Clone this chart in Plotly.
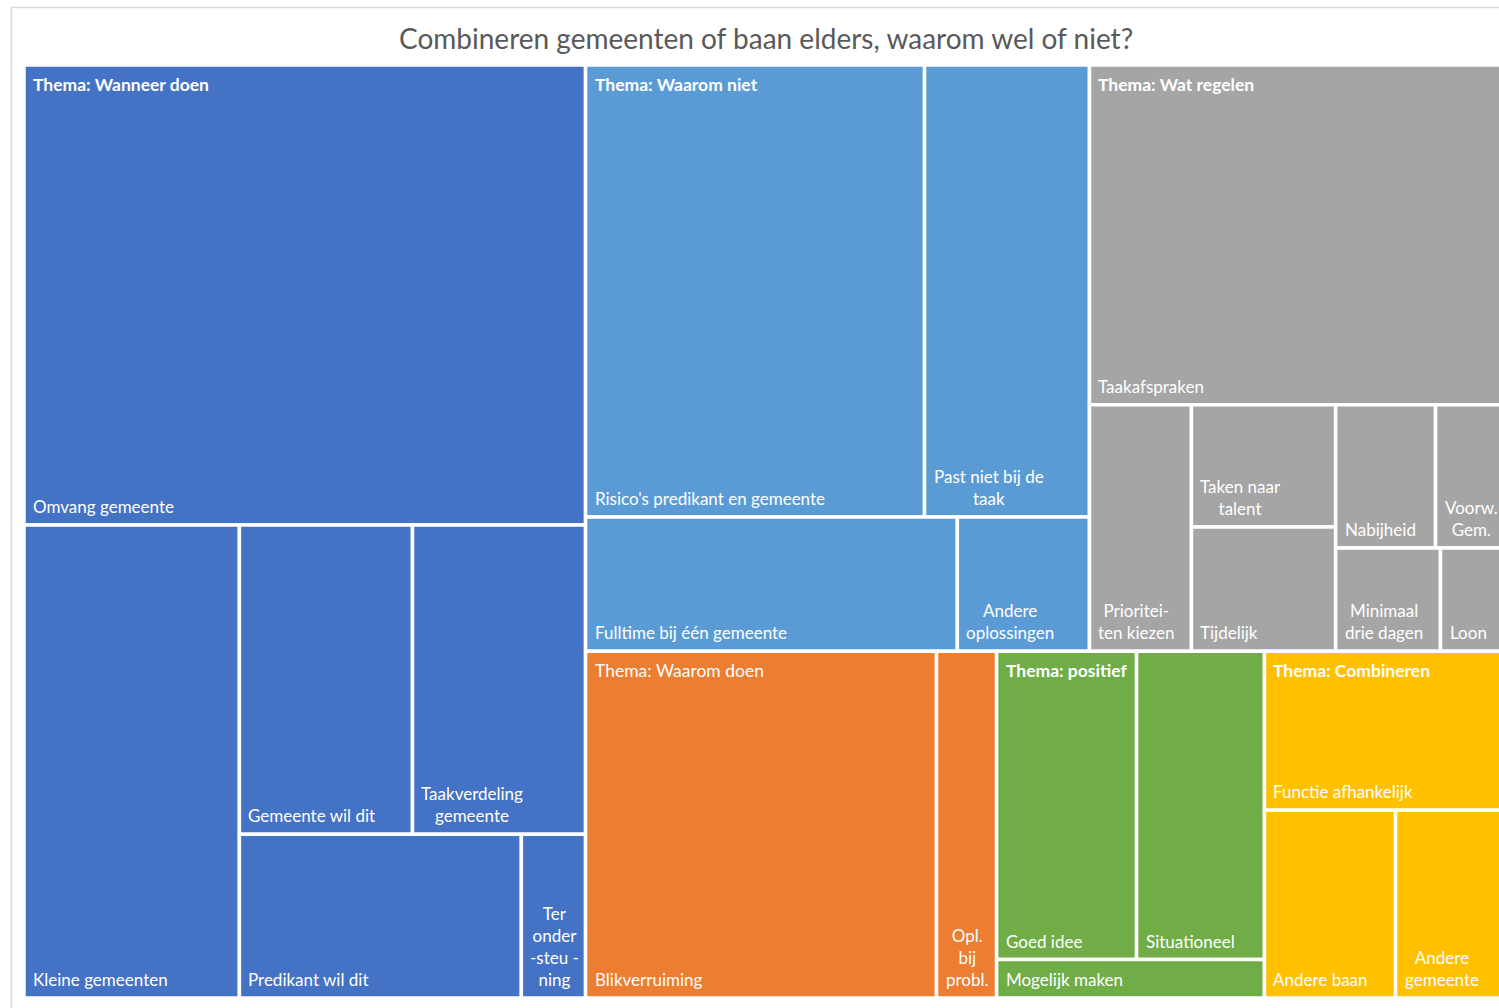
import plotly.graph_objects as go

# ---------------------------------------------------------------- data
themes = [
    "Thema: Wanneer doen",
    "Thema: Waarom niet",
    "Thema: Wat regelen",
    "Thema: Waarom doen",
    "Thema: positief",
    "Thema: Combineren",
]

wanneer_labels = ["Omvang gemeente", "Kleine gemeenten", "Gemeente wil dit",
                  "Taakverdeling<br>gemeente", "Predikant wil dit",
                  "Ter<br>onder<br>-steu -<br>ning"]
wanneer_values = [258.0, 101.8, 53.5, 53.5, 46.1, 10.5]

waarom_niet_labels = ["Risico's predikant en gemeente", "Past niet bij de<br>taak",
                      "Fulltime bij één gemeente", "Andere<br>oplossingen"]
waarom_niet_values = [153.1, 74.5, 49.8, 17.7]

wat_regelen_labels = ["Taakafspraken", "Prioritei-<br>ten kiezen", "Taken naar<br>talent",
                      "Tijdelijk", "Nabijheid", "Voorw.<br>Gem.",
                      "Minimaal<br>drie dagen", "Loon"]
wat_regelen_values = [141.9, 25.1, 17.6, 17.9, 14.3, 10.3, 10.8, 6.9]

waarom_doen_labels = ["Blikverruiming", "Opl.<br>bij<br>probl."]
waarom_doen_values = [121.6, 20.8]

positief_labels = ["Goed idee", "Situationeel", "Mogelijk maken"]
positief_values = [43.1, 39.4, 10.3]

combineren_labels = ["Functie afhankelijk", "Andere baan", "Andere<br>gemeente"]
combineren_values = [38.6, 24.6, 21.0]

children_labels = [wanneer_labels, waarom_niet_labels, wat_regelen_labels,
                   waarom_doen_labels, positief_labels, combineren_labels]
children_values = [wanneer_values, waarom_niet_values, wat_regelen_values,
                   waarom_doen_values, positief_values, combineren_values]

# ---------------------------------------------------------------- style
theme_colors = ["#4472C4", "#5B9BD5", "#A5A5A5", "#ED7D31", "#70AD47", "#FFC000"]
theme_bold = [True, True, True, False, True, True]
FONT = "Lato, Carlito, Calibri, 'Open Sans', sans-serif"

# number of consecutive items that share one strip, per level
top_strips = [1, 2, 1, 1, 1]
child_strips = [
    [1, 1, 2, 1, 1],
    [2, 1, 1],
    [1, 1, 2, 2, 1, 1],
    [1, 1],
    [2, 1],
    [1, 1, 1],
]

FIG_W, FIG_H = 1499, 1008
M_L, M_T, M_B = 24, 65, 10
PLOT_W = FIG_W - M_L
PLOT_H = FIG_H - M_T - M_B
TREE_W, TREE_H = 1483.5, PLOT_H   # treemap runs slightly past the right edge


def strip_layout(values, rect, strips):
    """Lay values out in strips, each strip along the shorter side of the
    remaining rectangle; returns one rectangle per value."""
    x0, y0, x1, y1 = rect
    scale = (x1 - x0) * (y1 - y0) / sum(values)
    rects = []
    i = 0
    for n in strips:
        vals = values[i:i + n]
        area = sum(vals) * scale
        w, h = x1 - x0, y1 - y0
        if w >= h:
            cw = area / h
            yy = y0
            for v in vals:
                hh = v * scale / cw
                rects.append((x0, yy, x0 + cw, yy + hh))
                yy += hh
            x0 += cw
        else:
            rh = area / w
            xx = x0
            for v in vals:
                ww = v * scale / rh
                rects.append((xx, y0, xx + ww, y0 + rh))
                xx += ww
            y0 += rh
        i += n
    return rects


theme_totals = [sum(v) for v in children_values]
theme_rects = strip_layout(theme_totals, (0, 0, TREE_W, TREE_H), top_strips)

fig = go.Figure()
annotations = []

for t, (theme, trect) in enumerate(zip(themes, theme_rects)):
    rects = strip_layout(children_values[t], trect, child_strips[t])
    for label, val, (x0, y0, x1, y1) in zip(children_labels[t], children_values[t], rects):
        fig.add_trace(go.Scatter(
            x=[x0, x1, x1, x0, x0], y=[y0, y0, y1, y1, y0],
            mode="lines", fill="toself", fillcolor=theme_colors[t],
            line=dict(color="white", width=3.5),
            name=label.replace("<br>", " "), hoveron="fills",
            text=f"{theme}<br>{label.replace('<br>', ' ')}: {val}",
            hoverinfo="text", showlegend=False,
        ))
        # cell label sits in the lower-left corner of its cell
        annotations.append(dict(
            x=x0 + 7, y=min(y1, PLOT_H) - 6, xref="x", yref="y",
            xanchor="left", yanchor="bottom", showarrow=False, align="center",
            text=label, font=dict(family=FONT, size=17, color="white"),
        ))
    # theme label in the upper-left corner of the theme block
    annotations.append(dict(
        x=trect[0] + 7, y=trect[1] + 7, xref="x", yref="y",
        xanchor="left", yanchor="top", showarrow=False, align="left",
        text=f"<b>{theme}</b>" if theme_bold[t] else theme,
        font=dict(family=FONT, size=17.5, color="white"),
    ))

# chart title
annotations.append(dict(
    x=(766 - M_L) / PLOT_W, y=1 + (M_T - 38) / PLOT_H, xref="paper", yref="paper",
    xanchor="center", yanchor="middle", showarrow=False,
    text="Combineren gemeenten of baan elders, waarom wel of niet?",
    font=dict(family=FONT, size=28, color="#595959"),
))

fig.update_layout(
    width=FIG_W, height=FIG_H,
    margin=dict(l=M_L, r=0, t=M_T, b=M_B, pad=0),
    paper_bgcolor="white", plot_bgcolor="white",
    xaxis=dict(range=[0, PLOT_W], visible=False, fixedrange=True),
    yaxis=dict(range=[PLOT_H, 0], visible=False, fixedrange=True),
    annotations=annotations,
    shapes=[dict(
        type="rect", xref="paper", yref="paper", layer="below",
        x0=(11.5 - M_L) / PLOT_W, x1=1.1,
        y0=-0.1, y1=1 + (M_T - 7.5) / PLOT_H,
        line=dict(color="#D9D9D9", width=1.5), fillcolor="rgba(0,0,0,0)",
    )],
    hovermode="closest",
)

fig.write_html("out.html")
